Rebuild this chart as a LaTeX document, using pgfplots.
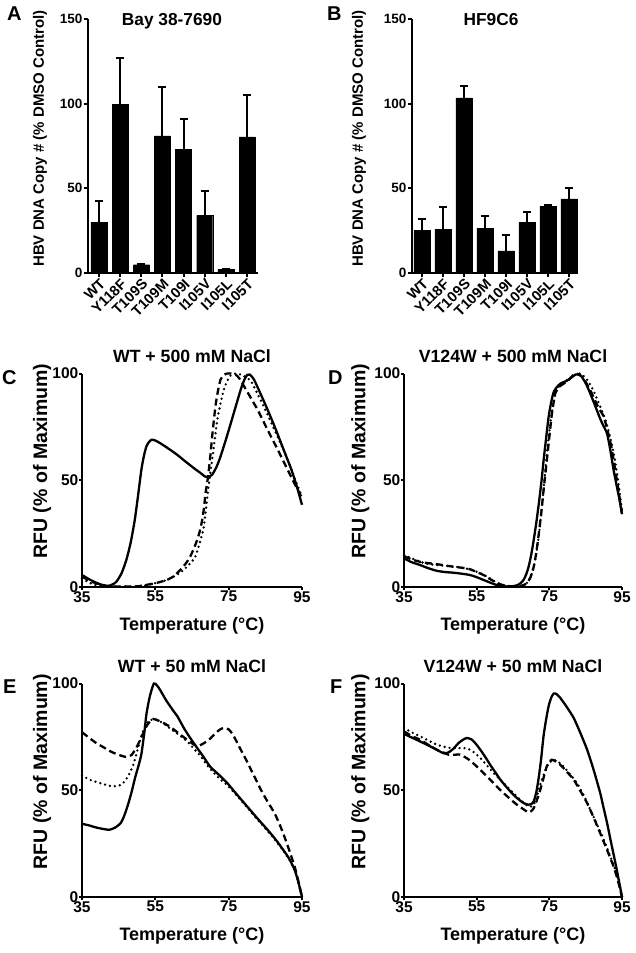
\documentclass[border=0pt]{standalone}
\usepackage{pgfplots}
\pgfplotsset{compat=1.18}
\usepackage{fontspec}
\setmainfont{Liberation Sans}

\newcommand\fs[1]{\bfseries\fontsize{#1}{#1}\selectfont}

\pgfplotsset{
  base/.style={scale only axis, axis lines=left, axis line style={-, line width=2.2pt, black},
    enlargelimits=false, tick style={line width=2pt, black}, tick align=outside,
    major tick length=4pt, /pgf/number format/assume math mode=true,
    /pgf/number format/1000 sep={}, clip=false},
  bars/.style={base, width=170pt, height=254pt, ymin=0, ymax=150, ytick={0,50,100,150},
    xtick={0,...,7}, xticklabels={WT,Y118F,T109S,T109M,T109I,I105V,I105L,I105T},
    xticklabel style={rotate=45, anchor=north east, font=\fs{14.5}, inner sep=0.5pt},
    yticklabel style={font=\fs{13.5}, inner sep=1.5pt}},
  melt/.style={base, height=213.5pt, xmin=35, xmax=95, ymin=0, ymax=100,
    xtick={35,55,75,95}, ytick={0,50,100}, major tick length=3pt,
    xticklabel style={font=\fs{15.5}, inner sep=1pt},
    yticklabel style={font=\fs{15.5}, inner sep=0.5pt}},
  sol/.style={black, line width=2.3pt, smooth, tension=0.4},
  dsh/.style={black, line width=2.3pt, smooth, tension=0.4, dash pattern=on 7pt off 4pt},
  dot/.style={black, line width=2.6pt, smooth, tension=0.4, line cap=round, dash pattern=on 0pt off 5pt},
  errs/.style={ybar, bar width=16pt, fill=black, draw=black,
    error bars/.cd, y dir=plus, y explicit,
    error bar style={line width=2pt, black},
    error mark options={rotate=90, mark size=4pt, line width=2pt, black}}
}

\begin{document}
\begin{tikzpicture}
\path[use as bounding box] (0pt,0pt) rectangle (636pt,-953pt);
\coordinate (pA) at (88pt,-273pt);
\coordinate (pB) at (412pt,-273pt);
\coordinate (pC) at (82pt,-587pt);
\coordinate (pD) at (404pt,-587pt);
\coordinate (pE) at (82pt,-897pt);
\coordinate (pF) at (404pt,-897pt);

% ---------- A ----------
\begin{axis}[bars, at={(pA)}, anchor=south west, xmin=-0.52, xmax=7.52]
\addplot[errs] coordinates {
 (0,29.9) +- (0,12.8)
 (1,99.7) +- (0,27.1)
 (2,4.9)  +- (0,0.6)
 (3,81.0) +- (0,28.7)
 (4,73.1) +- (0,17.9)
 (5,34.0) +- (0,14.2)
 (6,2.0)  +- (0,0.3)
 (7,80.4) +- (0,24.6)
};
\node[font=\fs{17.3}, anchor=base] at (axis description cs:0.494,0.976) {Bay 38-7690};
\node[font=\fs{15}, rotate=90, anchor=center] at (axis description cs:-0.282,0.53) {HBV DNA Copy \# (\% DMSO Control)};
\end{axis}

% ---------- B ----------
\begin{axis}[bars, at={(pB)}, anchor=south west, width=166pt, xmin=-0.476, xmax=7.43]
\addplot[errs] coordinates {
 (0,25.2)  +- (0,6.8)
 (1,25.6)  +- (0,13.1)
 (2,103.4) +- (0,7.3)
 (3,26.5)  +- (0,6.9)
 (4,13.0)  +- (0,9.2)
 (5,29.9)  +- (0,6.1)
 (6,39.5)  +- (0,0.5)
 (7,43.8)  +- (0,6.3)
};
\node[font=\fs{17.3}, anchor=base] at (axis description cs:0.476,0.976) {HF9C6};
\node[font=\fs{15}, rotate=90, anchor=center] at (axis description cs:-0.32,0.53) {HBV DNA Copy \# (\% DMSO Control)};
\end{axis}

% ---------- C ----------
\begin{axis}[melt, at={(pC)}, anchor=south west, width=220pt]
\addplot[dot] coordinates {
 (35,4)(37,2)(39,0.8)(42,0.3)(46,0.2)(50,0.3)(53,1)(55.4,2)(58,3.2)(60,4.9)(62,7)(63.6,9.5)(65,12)(65.9,14.2)
 (67,20)(68.2,28)(69.1,41)(69.8,51)(70.5,59.6)(71.2,69)(71.9,78.4)(72.8,86)(73.7,92.5)(74.6,96.5)(75.5,99)
 (76.9,100)(78.3,99.5)(79.7,98.2)(81.1,96.4)(83.3,89)(85.6,80.8)(87.5,73.5)(89.3,66.7)(91.5,58)(93.2,50)(94.8,43.2)
};
\addplot[dsh] coordinates {
 (35,4.9)(37,3)(38.9,1.7)(41.6,0.5)(45,0.2)(50,0.3)(52.6,1)(55.5,2)(58.1,3.3)(60,5)(61.8,8)(63.3,11)(64.5,14.2)
 (65.5,18)(66.4,22)(67.1,26)(67.8,31.5)(68.3,37.5)(68.7,44)(69.2,49.5)(69.6,55)(70.1,63)(70.5,70.6)(71.4,84.7)
 (72.1,92)(72.8,97.2)(73.7,99.3)(74.6,100)(75.7,100)(76.9,99.5)(78,97.5)(79.2,94)(81,88.7)(82.9,83)(84.7,76.8)
 (86.5,70.6)(88.4,64.3)(90.2,58)(92.5,50)(94.8,42.4)
};
\addplot[sol] coordinates {
 (35,5.6)(37,3.6)(38.9,2)(40.5,1)(42.1,0.5)(43.3,1.2)(44.4,2.5)(45.8,6.5)(47.1,12.7)(48.3,21)(49.4,31.5)(50.3,43)
 (51.2,55)(51.9,61.5)(52.6,66)(53.3,68)(54,69)(55,68.6)(56.3,67.4)(58.6,64.8)(60.9,62)(63.2,58.8)(65.5,55.7)
 (67.4,53.3)(68.5,51.8)(69.1,51.5)(69.8,51.8)(70.5,52.6)(71.7,56.3)(72.8,61.2)(74.2,68.8)(75.6,76.8)(77,85)
 (78.3,92.5)(79.3,97.2)(80.1,99.4)(80.8,99.5)(81.9,97.2)(83.7,90.5)(85.6,83.1)(87.5,75.3)(89.3,67.4)(90.7,61.2)
 (92.1,55)(93.6,47)(95,38.5)
};
\node[font=\fs{17.7}, anchor=center] at (axis description cs:0.5,1.08) {WT + 500 mM NaCl};
\node[font=\fs{18}, anchor=center] at (axis description cs:0.5,-0.183) {Temperature (°C)};
\node[font=\fs{19.5}, rotate=90, anchor=center] at (axis description cs:-0.182,0.59) {RFU (\% of Maximum)};
\end{axis}

% ---------- D ----------
\begin{axis}[melt, at={(pD)}, anchor=south west, width=218pt]
\addplot[dot] coordinates {
 (35,15)(38,12.8)(41,11)(44,10.3)(47,9.8)(50,9.3)(53,8.3)(56,6.5)(58.5,4.2)(60.5,2)(62.5,0.8)(64.5,0.2)(66.5,0.1)
 (68,0.8)(69.2,2.5)(70.2,6.5)(71,12)(71.8,20)(72.5,30)(73.2,42)(73.9,55)(74.6,67)(75.3,77)(76,85)(76.8,91)
 (78,94.8)(80,97)(82.2,99.5)(83.3,100)(85,98)(87,92.5)(89,84.5)(90.5,78)(91.9,69)(93,60)(94,49)(95,36)
};
\addplot[dsh] coordinates {
 (35,14.5)(37,13)(39.4,11.8)(42,11.1)(44,10.7)(46.3,10.1)(48.6,9.5)(51,9)(53.2,8.3)(55,7)(56.9,5.6)(58.8,3.6)
 (60.6,2)(62,1)(63.4,0.5)(66.1,0.2)(67.5,0.7)(68.8,1.7)(69.8,4.5)(70.7,9.5)(71.4,16)(72.1,25)(72.8,35)(73.4,45)
 (74.1,56)(74.8,67)(75.7,81)(76.6,90.5)(77.5,93.5)(78.9,95.2)(80.5,97.3)(82.2,100)(84.3,98)(86.6,91)(88.5,84)
 (90,79.6)(91.9,67)(93.6,50)(95,34)
};
\addplot[sol] coordinates {
 (35,13.4)(37,11.7)(39.4,10.3)(41.7,8.8)(44,7.6)(46.3,7)(48.6,6.7)(51,6.2)(53.2,5.6)(55,4.6)(56.9,3.3)(58.8,2)
 (60.6,0.9)(62.4,0.4)(64.2,0.2)(66.1,0.8)(67.1,1.8)(67.9,3.3)(68.6,5.8)(69.3,9.5)(70,15)(70.7,22)(71.4,30)
 (72.1,39)(72.8,49)(73.4,59)(74.1,69.5)(74.8,79.6)(75.5,86.5)(76.2,91.3)(77,93.5)(78,95.2)(79.9,96.7)(81,98)
 (82.2,99.5)(83.2,99.4)(84,98.3)(85.2,94.8)(86.3,90.5)(87.7,84.5)(89,78.8)(89.8,75.8)(90.9,71.8)(91.8,64)
 (92.7,54.7)(93.6,46.9)(94.3,41)(95,34.1)
};
\node[font=\fs{17.7}, anchor=center] at (axis description cs:0.5,1.08) {V124W + 500 mM NaCl};
\node[font=\fs{18}, anchor=center] at (axis description cs:0.5,-0.183) {Temperature (°C)};
\node[font=\fs{19.5}, rotate=90, anchor=center] at (axis description cs:-0.2,0.59) {RFU (\% of Maximum)};
\end{axis}

% ---------- E ----------
\begin{axis}[melt, at={(pE)}, anchor=south west, width=220pt]
\addplot[dot] coordinates {
 (35,57)(37,55)(39.8,53.4)(41.6,52.5)(43.4,51.8)(45.7,52.6)(47,55)(48,58)(49,62)(49.9,67.4)(51.2,75.3)
 (52.6,81.5)(54,83)(55.5,83)(57,81.5)(59,79)(61,76.5)(63.6,73)(65.5,69.5)(67.3,66)(69,62)(71,58)(72.8,55)
 (74.6,52.4)(77,48)(80,42)(83,36)(85.6,31)(88,26)(90.2,21)(91.7,17)(93,12.5)(94,7)(95,0)
};
\addplot[dsh] coordinates {
 (35,77.2)(37,74.5)(39,72)(41,70)(43,68)(45,66.6)(47,65.6)(48.5,66.5)(50,70.5)(51.5,76)(52.6,80)(53.5,82.2)
 (54.4,83.4)(56,82.5)(58,80.8)(60,78.5)(62,75.8)(64,73.3)(65.5,71.4)(67,71)(68.2,72)(69.5,73.5)(71,76)
 (72.5,78.3)(73.7,79.2)(75.1,78.4)(76.5,75)(78.3,69)(80,63.5)(81.1,59.6)(82.5,54.8)(83.8,50.2)(85.5,45)
 (87.5,39.3)(88.9,34)(90.2,28.3)(91.5,22)(93,14.2)(94,7.5)(95,0)
};
\addplot[sol] coordinates {
 (35,34.3)(37,33.5)(39,32.5)(41,31.8)(42.5,31.5)(44,32.5)(45.5,34.5)(46.5,38)(47.5,43)(48.5,49)(49.5,56)
 (50.5,62)(51.2,67)(52,77)(52.6,86)(53.5,94)(54.6,100)(55.5,99)(56.3,97)(58,92)(60,87)(61,84.7)(63,78.5)
 (65.5,72)(68,66)(70,61)(72.5,57)(74.6,53.4)(77,48.5)(80,42.5)(83,36.5)(85.6,31.5)(88,26.5)(90.2,21.3)
 (91.5,18)(93,12.7)(94,7)(95,0)
};
\node[font=\fs{17.7}, anchor=center] at (axis description cs:0.5,1.08) {WT + 50 mM NaCl};
\node[font=\fs{18}, anchor=center] at (axis description cs:0.5,-0.18) {Temperature (°C)};
\node[font=\fs{19.5}, rotate=90, anchor=center] at (axis description cs:-0.182,0.587) {RFU (\% of Maximum)};
\end{axis}

% ---------- F ----------
\begin{axis}[melt, at={(pF)}, anchor=south west, width=218pt]
\addplot[dot] coordinates {
 (35,79.2)(37,77.2)(39.4,75.3)(41.7,73.3)(44,71.4)(46,70.4)(47.7,69.8)(49.5,69.7)(51.4,69.8)(53.2,69)
 (54.6,67.3)(56,65.1)(57.8,61.7)(59.6,58.1)(61.5,55)(63.3,51.8)(65.2,48.5)(67,45.5)(68.2,43.8)(69.3,42.4)
 (70,42.4)(70.7,43.2)(71.6,47.5)(72.5,52.6)(73.4,57)(74.3,61.2)(75.2,63.2)(76.2,64.3)(77.5,63.2)(78.9,61.2)
 (80.7,57.5)(82.6,53.4)(84.5,47.5)(86.3,40.8)(88.2,33.8)(90,26.8)(91.6,19.8)(93.2,12.7)(94.2,6.5)(95,0)
};
\addplot[dsh] coordinates {
 (35,77.6)(37,75.5)(39.4,73.7)(41.7,71.3)(44,69)(45.6,67.8)(47.2,66.7)(48.8,66.6)(50.4,66.7)(52.3,65)
 (53.6,63.3)(55,61.2)(56.8,58.2)(58.7,55)(60.5,51.8)(62.4,48.7)(64.3,45.8)(66.1,43.2)(67.7,41.3)(69.3,39.6)
 (70,40.2)(70.7,41.6)(71.6,45.5)(72.5,50.2)(73.4,55.8)(74.3,61.2)(75,63.3)(75.7,64.3)(76.8,63.5)(78,62)
 (79.8,58.7)(81.7,55)(83.5,49.8)(85.4,44)(87.2,37.2)(89,29.9)(90.9,22)(92.7,14.2)(93.9,7.5)(95,0)
};
\addplot[sol] coordinates {
 (35,76.4)(37,74.8)(39.4,72.9)(41.2,71.4)(43.1,69.8)(44.5,68.5)(45.8,67.4)(46.7,67.4)(47.7,68.2)(48.9,70)
 (50,72.1)(51.2,73.6)(52.3,74.5)(53.7,73.7)(54.9,71.5)(56,69)(57.4,65.5)(58.7,62)(60.1,58.5)(61.5,55)
 (63.3,51.3)(65.1,47.9)(66.5,45.8)(67.9,44)(69.3,43.2)(70.1,43.6)(70.7,44.8)(71.4,49)(72,55)(72.7,64)
 (73.4,75.3)(74.1,83)(74.8,89.4)(75.5,93.3)(76.2,95.3)(77,95)(78,93.3)(79.8,89)(81.7,83.9)(83.5,77)
 (85.4,69)(87.2,59.5)(89,48.7)(89.9,42)(90.9,34.6)(92,25.5)(93.2,15.8)(94.1,8)(95,0)
};
\node[font=\fs{17.7}, anchor=center] at (axis description cs:0.5,1.08) {V124W + 50 mM NaCl};
\node[font=\fs{18}, anchor=center] at (axis description cs:0.5,-0.18) {Temperature (°C)};
\node[font=\fs{19.5}, rotate=90, anchor=center] at (axis description cs:-0.2,0.587) {RFU (\% of Maximum)};
\end{axis}

% panel letters
\node[font=\fs{20}, anchor=base west, inner sep=0pt] at (7pt,-20pt) {A};
\node[font=\fs{20}, anchor=base west, inner sep=0pt] at (327pt,-20pt) {B};
\node[font=\fs{20}, anchor=base west, inner sep=0pt] at (2pt,-384pt) {C};
\node[font=\fs{20}, anchor=base west, inner sep=0pt] at (328pt,-384pt) {D};
\node[font=\fs{20}, anchor=base west, inner sep=0pt] at (3pt,-693pt) {E};
\node[font=\fs{20}, anchor=base west, inner sep=0pt] at (330pt,-693pt) {F};
\end{tikzpicture}
\end{document}
